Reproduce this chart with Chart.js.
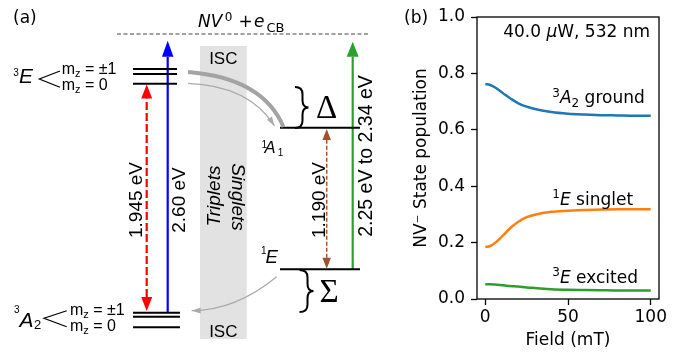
<!DOCTYPE html>
<html><head><meta charset="utf-8">
<script src="https://cdn.jsdelivr.net/npm/chart.js@4.4.1/dist/chart.umd.min.js"></script>
<style>
html,body{margin:0;padding:0;background:#fff;overflow:hidden;width:689px;height:356px}
#ca{position:absolute;left:0;top:0;width:400px;height:356px}
#cb{position:absolute;left:400px;top:0;width:289px;height:356px}
</style></head>
<body>
<canvas id="ca" width="400" height="356"></canvas>
<canvas id="cb" width="289" height="356"></canvas>
<script>
// ---------- Panel (b) data ----------
const fieldValues = [0, 3, 6, 9, 12, 15, 20, 25, 30, 40, 50, 60, 70, 80, 90, 100];
const groundPop   = [0.762, 0.759, 0.750, 0.738, 0.724, 0.712, 0.694, 0.682, 0.674, 0.663, 0.657, 0.654, 0.652, 0.651, 0.650, 0.650];
const singletPop  = [0.184, 0.188, 0.199, 0.215, 0.233, 0.251, 0.274, 0.290, 0.299, 0.309, 0.313, 0.316, 0.317, 0.318, 0.318, 0.318];
const excitedPop  = [0.052, 0.052, 0.051, 0.050, 0.048, 0.046, 0.044, 0.041, 0.039, 0.035, 0.033, 0.032, 0.031, 0.030, 0.030, 0.030];
const seriesNames = ['ground', 'singlet', 'excited'];
const xTicks = [0, 50, 100];
const yTicks = [0, 0.2, 0.4, 0.6, 0.8, 1.0];
const xTitle = 'Field (mT)';
const yTitle = 'NV\u207B State population';

// ---------- Panel (a) data ----------
const transitionLabels = ['1.945 eV', '2.60 eV', '1.190 eV', '2.25 eV to 2.34 eV'];
const levelNames = ['3E', '3A2', '1A1', '1E'];

// schematic layout of the level diagram (diagram units)
const layoutA = {
  ion: {x0: 117, x1: 368, y: 34},
  band: {x0: 200, x1: 246.7, y0: 46, y1: 339},
  levels: [
    {x0: 133, x1: 177, y: 69}, {x0: 133, x1: 177, y: 74}, {x0: 133, x1: 177, y: 83.7},
    {x0: 133, x1: 180, y: 312.7}, {x0: 133, x1: 180, y: 316.7}, {x0: 133, x1: 180, y: 327.3},
    {x0: 280, x1: 360, y: 127.7}, {x0: 280, x1: 360, y: 269.3}
  ],
  arrows: [
    {x: 146.7, from: 311, to: 84.5, both: true, color: '#ff0000', dash: [8, 3], w: 2.2, L: 14, W: 11},
    {x: 167.7, from: 312.7, to: 40.7, both: false, color: '#0000ff', dash: [], w: 2.2, L: 16, W: 11.5},
    {x: 326.7, from: 268.8, to: 129, both: true, color: '#a0522d', dash: [4, 2], w: 1.5, L: 11, W: 8.5},
    {x: 352.7, from: 269.3, to: 41.7, both: false, color: '#2ca02c', dash: [], w: 2.2, L: 15, W: 12}
  ]
};

const SANS = '"Liberation Sans", Arial, sans-serif';
const DV = '"DejaVu Sans", sans-serif';
const SERIF = '"Liberation Serif", "Times New Roman", serif';

const dsA = [];
dsA.push({data: [{x: layoutA.ion.x0, y: layoutA.ion.y}, {x: layoutA.ion.x1, y: layoutA.ion.y}],
  borderColor: '#444', borderWidth: 1, borderDash: [4, 2.5]});
layoutA.levels.forEach(l => dsA.push({data: [{x: l.x0, y: l.y}, {x: l.x1, y: l.y}], borderColor: '#000', borderWidth: 2}));
layoutA.arrows.forEach(a => {
  const dir = Math.sign(a.to - a.from);
  const s = a.both ? a.from + dir * a.L : a.from;
  const e = a.to - dir * a.L;
  dsA.push({data: [{x: a.x, y: s}, {x: a.x, y: e}], borderColor: a.color, borderWidth: a.w, borderDash: a.dash});
});
dsA.forEach(d => { d.showLine = true; d.pointRadius = 0; d.borderCapStyle = 'butt'; d.fill = false; });

function head(ctx, tx, ty, dx, dy, L, W, color) {
  const n = Math.hypot(dx, dy); dx /= n; dy /= n;
  const bx = tx - dx * L, by = ty - dy * L;
  ctx.beginPath(); ctx.moveTo(tx, ty);
  ctx.lineTo(bx - dy * W / 2, by + dx * W / 2);
  ctx.lineTo(bx + dy * W / 2, by - dx * W / 2);
  ctx.closePath(); ctx.fillStyle = color; ctx.fill();
}

const diagramPlugin = {
  id: 'diagram',
  beforeDatasetsDraw(chart) {
    const ctx = chart.ctx, X = v => chart.scales.x.getPixelForValue(v), Y = v => chart.scales.y.getPixelForValue(v);
    const b = layoutA.band;
    ctx.save(); ctx.fillStyle = '#e2e2e2';
    ctx.fillRect(X(b.x0), Y(b.y0), X(b.x1) - X(b.x0), Y(b.y1) - Y(b.y0));
    ctx.restore();
  },
  afterDatasetsDraw(chart) {
    const ctx = chart.ctx, X = v => chart.scales.x.getPixelForValue(v), Y = v => chart.scales.y.getPixelForValue(v);
    ctx.save();
    layoutA.arrows.forEach(a => {
      const dir = Math.sign(a.to - a.from);
      head(ctx, X(a.x), Y(a.to), 0, Y(a.to) - Y(a.to - dir), a.L, a.W, a.color);
      if (a.both) head(ctx, X(a.x), Y(a.from), 0, Y(a.from) - Y(a.from + dir), a.L, a.W, a.color);
    });
    function quad(p0, c, p2, w, col, withHead) {
      ctx.beginPath(); ctx.moveTo(X(p0[0]), Y(p0[1]));
      ctx.quadraticCurveTo(X(c[0]), Y(c[1]), X(p2[0]), Y(p2[1]));
      ctx.strokeStyle = col; ctx.lineWidth = w; ctx.lineCap = 'butt'; ctx.stroke();
      if (withHead) head(ctx, X(p2[0]), Y(p2[1]), X(p2[0]) - X(c[0]), Y(p2[1]) - Y(c[1]), 9, 6, col);
    }
    quad([188, 72], [263, 78], [283.5, 127], 4, '#a3a3a3', false);
    quad([188, 83.3], [249, 85.6], [274.3, 125.7], 1.3, '#aaaaaa', true);
    quad([276.7, 276.7], [235.8, 310.3], [191.7, 310.7], 1.3, '#aaaaaa', true);
    function brace(xL, xM, xR, y0, y1) {
      const ym = (y0 + y1) / 2, h0 = (ym - y0) * 0.35, h1 = (y1 - ym) * 0.35;
      ctx.beginPath();
      ctx.moveTo(X(xL), Y(y0));
      ctx.quadraticCurveTo(X(xM), Y(y0), X(xM), Y(y0 + h0));
      ctx.lineTo(X(xM), Y(ym - h0));
      ctx.quadraticCurveTo(X(xM), Y(ym), X(xR), Y(ym));
      ctx.quadraticCurveTo(X(xM), Y(ym), X(xM), Y(ym + h1));
      ctx.lineTo(X(xM), Y(y1 - h1));
      ctx.quadraticCurveTo(X(xM), Y(y1), X(xL), Y(y1));
      ctx.strokeStyle = '#000'; ctx.lineWidth = 2; ctx.stroke();
    }
    brace(295, 302.5, 308.5, 87, 128);
    brace(299.5, 307.5, 313.5, 270, 312);
    ctx.strokeStyle = '#000'; ctx.lineWidth = 1.2;
    [[39.3, 79, 60, 71, 60, 87.3], [44, 318.3, 66.7, 310.7, 66.7, 326.7]].forEach(c => {
      ctx.beginPath(); ctx.moveTo(X(c[2]), Y(c[3])); ctx.lineTo(X(c[0]), Y(c[1])); ctx.lineTo(X(c[4]), Y(c[5])); ctx.stroke();
    });
    function txt(t, x, y, font, o = {}) {
      ctx.save(); ctx.font = font; ctx.fillStyle = o.color || '#000';
      ctx.textAlign = o.align || 'left'; ctx.textBaseline = o.base || 'alphabetic';
      ctx.translate(X(x), Y(y)); if (o.rot) ctx.rotate(o.rot); ctx.fillText(t, 0, 0);
      const w = ctx.measureText(t).width; ctx.restore(); return w;
    }
    function mLabel(x, y, val) {
      txt('m', x, y, '16px ' + SANS);
      txt('z', x + 13.3, y + 3, '11px ' + SANS);
      txt('= ' + val, x + 23.3, y, '16px ' + SANS);
    }
    txt('(a)', 13, 22.5, '17px ' + DV);
    const nvW = txt('NV', 198, 26.7, 'italic 17px ' + DV);
    txt('0', 198 + nvW + 2.5, 21.2, '12px ' + DV);
    txt('+', 245.5, 26.7, '17px ' + DV, {align: 'center'});
    txt('e', 254, 26.7, 'italic 17px ' + DV);
    txt('CB', 266.5, 32.3, '13px ' + DV);
    txt('3', 13.3, 76, '10px ' + SANS);
    txt('E', 19, 83.3, 'italic 21px ' + SANS);
    mLabel(61.7, 74, '\u00B11'); mLabel(61.7, 90, '0');
    txt('3', 14, 313.3, '10px ' + SANS);
    txt('A', 19.5, 326.7, 'italic 21px ' + SANS);
    txt('2', 34, 329, '13px ' + SANS);
    mLabel(70, 315, '\u00B11'); mLabel(70, 330.7, '0');
    txt('ISC', 223.3, 64, '17px ' + SANS, {align: 'center'});
    txt('ISC', 223.3, 336.7, '17px ' + SANS, {align: 'center'});
    txt('Triplets', 219.5, 196, 'italic 19px ' + SANS, {align: 'center', rot: -Math.PI / 2});
    txt('Singlets', 231.5, 197, 'italic 19px ' + SANS, {align: 'center', rot: Math.PI / 2});
    txt(transitionLabels[0], 141.8, 200, '19px ' + SANS, {align: 'center', rot: -Math.PI / 2});
    txt(transitionLabels[1], 184.5, 200, '19px ' + SANS, {align: 'center', rot: -Math.PI / 2});
    txt(transitionLabels[2], 325, 200, '19px ' + SANS, {align: 'center', rot: -Math.PI / 2});
    txt(transitionLabels[3], 372, 156, '19.5px ' + SANS, {align: 'center', rot: -Math.PI / 2});
    txt('1', 261.5, 147.5, '10px ' + SANS);
    txt('A', 264.5, 153.3, 'italic 16.5px ' + SANS);
    txt('1', 277.8, 156, '10px ' + SANS);
    txt('1', 261, 254, '10px ' + SANS);
    txt('E', 265.5, 263.3, 'italic 18.6px ' + SANS);
    txt('\u0394', 326.7, 118.3, '33px ' + SERIF, {align: 'center'});
    txt('\u03A3', 329, 301.7, '33px ' + SERIF, {align: 'center'});
    ctx.restore();
  }
};

new Chart(document.getElementById('ca'), {
  type: 'scatter',
  data: {datasets: dsA},
  options: {
    responsive: false, animation: false, devicePixelRatio: 1,
    layout: {padding: 0},
    plugins: {legend: {display: false}, tooltip: {enabled: false}},
    elements: {line: {tension: 0}},
    scales: {
      x: {type: 'linear', min: 0, max: 400, display: false},
      y: {type: 'linear', min: 0, max: 356, reverse: true, display: false}
    }
  },
  plugins: [diagramPlugin]
});

// ---------- Panel (b) chart ----------
const colors = ['#1f77b4', '#ff7f0e', '#2ca02c'];
const pops = [groundPop, singletPop, excitedPop];

const annotPlugin = {
  id: 'annot',
  afterDraw(chart) {
    const ctx = chart.ctx, a = chart.chartArea;
    const X = v => chart.scales.x.getPixelForValue(v), Y = v => chart.scales.y.getPixelForValue(v);
    ctx.save();
    ctx.strokeStyle = '#000'; ctx.lineWidth = 1.3;
    ctx.strokeRect(a.left, a.top, a.right - a.left, a.bottom - a.top);
    function runs(x, y, list, align) {
      let total = 0;
      list.forEach(r => { ctx.font = r.f; r.w = ctx.measureText(r.t).width; total += r.w; });
      let cx = align === 'right' ? x - total : x;
      ctx.textBaseline = 'alphabetic'; ctx.textAlign = 'left'; ctx.fillStyle = '#000';
      list.forEach(r => { ctx.font = r.f; ctx.fillText(r.t, cx, y + (r.dy || 0)); cx += r.w; });
    }
    const F = '17px ' + DV, FI = 'italic 17px ' + DV, FS = '12px ' + DV;
    runs(4, 22.5, [{t: '(b)', f: F}], 'left');
    runs(a.right - 9, 36.7, [{t: '40.0 ', f: F}, {t: '\u03BC', f: FI}, {t: 'W, 532 nm', f: F}], 'right');
    const lx = X(40.5);
    runs(lx, Y(0.694), [{t: '3', f: FS, dy: -6.6}, {t: 'A', f: FI}, {t: '2', f: FS, dy: 3.4}, {t: ' ground', f: F}], 'left');
    runs(lx, Y(0.333), [{t: '1', f: FS, dy: -6.6}, {t: 'E', f: FI}, {t: ' singlet', f: F}], 'left');
    runs(lx, Y(0.058), [{t: '3', f: FS, dy: -6.6}, {t: 'E', f: FI}, {t: ' excited', f: F}], 'left');
    ctx.restore();
  }
};

new Chart(document.getElementById('cb'), {
  type: 'line',
  data: {
    datasets: seriesNames.map((n, k) => ({
      label: n,
      data: fieldValues.map((f, i) => ({x: f, y: pops[k][i]})),
      borderColor: colors[k], borderWidth: 2.5, pointRadius: 0, fill: false,
      cubicInterpolationMode: 'monotone'
    }))
  },
  options: {
    responsive: false, animation: false, devicePixelRatio: 1,
    layout: {padding: {left: 0, top: 17, right: 30, bottom: 0}},
    plugins: {legend: {display: false}, tooltip: {enabled: false}},
    scales: {
      x: {
        type: 'linear', min: -5, max: 105,
        afterBuildTicks: s => { s.ticks = xTicks.map(v => ({value: v})); },
        afterFit: s => { s.height = 57; },
        grid: {drawOnChartArea: false, drawTicks: true, tickLength: 6, tickColor: '#000', tickWidth: 1.3},
        border: {display: false},
        ticks: {color: '#000', font: {family: 'DejaVu Sans', size: 17}, padding: 2, maxRotation: 0, autoSkip: false,
                callback: v => String(v)},
        title: {display: true, text: xTitle, color: '#000', font: {family: 'DejaVu Sans', size: 17}, padding: {top: 0, bottom: 5}}
      },
      y: {
        type: 'linear', min: 0, max: 1,
        afterBuildTicks: s => { s.ticks = yTicks.map(v => ({value: v})); },
        afterFit: s => { s.width = 77; },
        grid: {drawOnChartArea: false, drawTicks: true, tickLength: 6, tickColor: '#000', tickWidth: 1.3},
        border: {display: false},
        ticks: {color: '#000', font: {family: 'DejaVu Sans', size: 17}, padding: 6, autoSkip: false,
                callback: v => v.toFixed(1)},
        title: {display: true, text: yTitle, color: '#000', font: {family: 'DejaVu Sans', size: 17}, padding: {top: 11.5, bottom: 0}}
      }
    }
  },
  plugins: [annotPlugin]
});
</script>
</body></html>
